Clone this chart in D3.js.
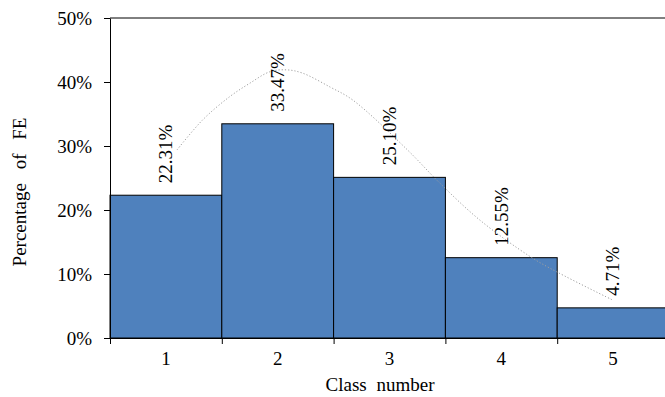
<!DOCTYPE html>
<html>
  <body style="margin:0">
    <style>
      body { background: #fff; }
    </style>
    <script src="https://d3js.org/d3.v7.min.js"></script>
    <script type="text/javascript">

      const width = 665;
      const height = 397;
      const serif = "'Liberation Serif', 'Times New Roman', serif";

      const classes = ['1', '2', '3', '4', '5'];
      const shares = [22.31, 33.47, 25.10, 12.55, 4.71];
      const yTicks = [0, 10, 20, 30, 40, 50];

      // dotted trend curve (class position, percent)
      const curveX = [1.10, 1.33, 1.57, 1.75, 1.93, 2.08, 2.22, 2.47, 2.67, 3.16, 3.45, 3.81, 4.26, 4.50, 5.00];
      const curveY = [29.4, 34.1, 37.7, 39.8, 41.6, 41.9, 41.4, 39.2, 37.2, 29.4, 24.2, 18.4, 12.7, 10.3, 5.9];

      const plotLeft = 110, plotRight = 669, plotTop = 18, plotBottom = 338;

      const svg = d3.select('body')
        .append('svg')
        .attr('width', width)
        .attr('height', height)
        .attr('font-family', serif);

      const xBand = d3.scaleBand()
        .domain(classes)
        .range([plotLeft, plotRight])
        .padding(0);

      const xLin = d3.scaleLinear()
        .domain([0.5, 5.5])
        .range([plotLeft, plotRight]);

      const y = d3.scaleLinear()
        .domain([0, 50])
        .range([plotBottom, plotTop]);

      // top border
      svg.append('line')
        .attr('x1', plotLeft).attr('x2', plotRight)
        .attr('y1', plotTop).attr('y2', plotTop)
        .attr('stroke', '#000');

      svg.selectAll('.bar')
        .data(shares)
        .enter()
        .append('rect')
        .attr('class', 'bar')
        .attr('x', (d, i) => xBand(classes[i]))
        .attr('width', xBand.bandwidth())
        .attr('y', (d) => y(d))
        .attr('height', (d) => y(0) - y(d))
        .attr('fill', '#4F81BD')
        .attr('stroke', '#000')
        .attr('stroke-width', 1);

      const line = d3.line()
        .x((d, i) => xLin(curveX[i]))
        .y((d, i) => y(curveY[i]))
        .curve(d3.curveCatmullRom);

      svg.append('path')
        .attr('d', line(curveX))
        .attr('fill', 'none')
        .attr('stroke', '#a0a0a0')
        .attr('stroke-width', 1)
        .attr('stroke-dasharray', '1.2,2');

      svg.selectAll('.lbl')
        .data(shares)
        .enter()
        .append('text')
        .attr('class', 'lbl')
        .attr('transform', (d, i) => `translate(${xBand(classes[i]) + xBand.bandwidth() / 2}, ${y(d) - 12}) rotate(-90)`)
        .attr('dy', '0.33em')
        .attr('font-family', serif)
        .attr('font-size', 19)
        .text((d) => d.toFixed(2) + '%');

      // y axis
      const yAxis = svg.append('g')
        .attr('transform', `translate(${plotLeft}, 0)`)
        .call(d3.axisLeft(y).tickValues(yTicks).tickFormat((d) => d + '%').tickSize(6).tickSizeOuter(0).tickPadding(12));
      yAxis.attr('font-family', serif).attr('font-size', 19);
      yAxis.selectAll('text').attr('font-family', serif).attr('font-size', 19).attr('fill', '#000');
      yAxis.selectAll('line, path').attr('stroke', '#000');

      // x axis labels
      const xAxis = svg.append('g')
        .attr('transform', `translate(0, ${plotBottom})`)
        .call(d3.axisBottom(xBand).tickSize(0).tickPadding(14));
      xAxis.attr('font-family', serif).attr('font-size', 19);
      xAxis.select('.domain').attr('stroke', '#000');
      xAxis.selectAll('text').attr('font-family', serif).attr('font-size', 19).attr('fill', '#000');

      // x boundary ticks
      svg.append('g')
        .attr('transform', `translate(0, ${plotBottom})`)
        .call(d3.axisBottom(xLin).tickValues([0.5, 1.5, 2.5, 3.5, 4.5, 5.5]).tickFormat('').tickSize(6).tickSizeOuter(0))
        .call((g) => g.select('.domain').remove())
        .selectAll('line').attr('stroke', '#000');

      svg.append('text')
        .attr('x', 380)
        .attr('y', 391)
        .attr('text-anchor', 'middle')
        .attr('font-family', serif)
        .attr('font-size', 19)
        .attr('word-spacing', 5)
        .text('Class number');

      svg.append('text')
        .attr('transform', 'translate(26, 192) rotate(-90)')
        .attr('text-anchor', 'middle')
        .attr('font-family', serif)
        .attr('font-size', 19)
        .attr('word-spacing', 9)
        .text('Percentage of FE');

    </script>
  </body>
</html>
